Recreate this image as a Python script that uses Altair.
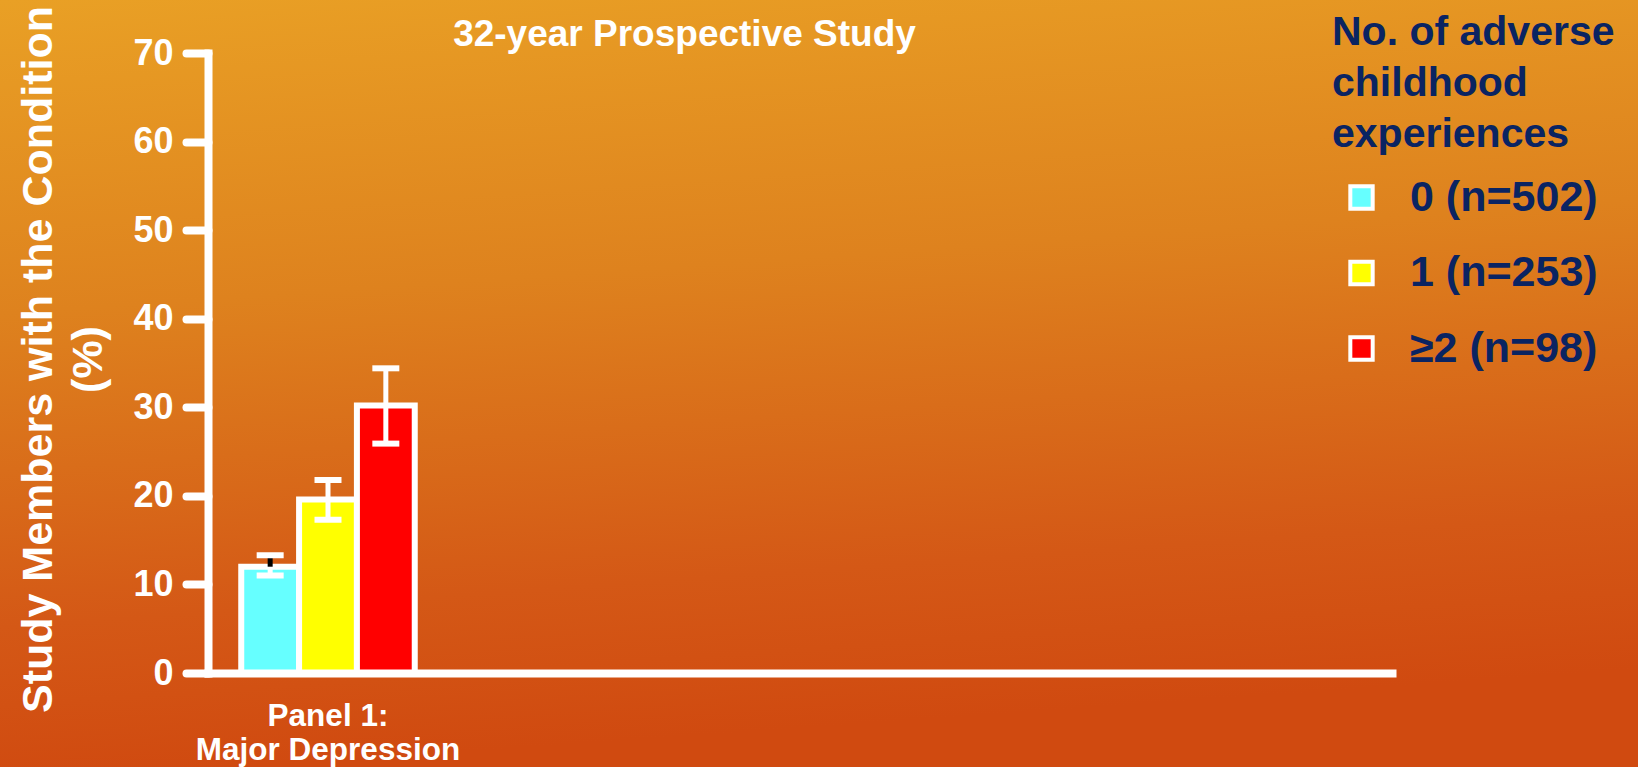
import altair as alt
import pandas as pd

# Data: share of study members with major depression by number of adverse childhood experiences
panels = ["Panel 1:\nMajor Depression"]
groups = ["0 (n=502)", "1 (n=253)", "\u22652 (n=98)"]
colors = ["#66FFFF", "#FFFF00", "#FF0000"]
pct = [12.0, 19.6, 30.2]
ci_low = [11.0, 17.3, 25.9]
ci_high = [13.3, 21.8, 34.4]
stem_colors = ["black", "white", "white"]
y_ticks = [0, 10, 20, 30, 40, 50, 60, 70]
chart_title = "32-year Prospective Study"
y_title = ["Study Members with the Condition", "(%)"]
legend_title = ["No. of adverse", "childhood", "experiences"]

FONT = "Liberation Sans"
NAVY = "#0A2462"

df = pd.DataFrame({
    "panel": panels * len(groups),
    "group": groups,
    "pct": pct,
    "lo": ci_low,
    "hi": ci_high,
    "stem": stem_colors,
})

W, H = 1184, 620
PAD = {"left": 208, "top": 53, "right": 246, "bottom": 94}

x_enc = alt.X(
    "panel:N",
    scale=alt.Scale(domain=panels, paddingInner=0.6566, paddingOuter=1, align=0.0329),
    axis=alt.Axis(
        title=None, ticks=False, labelAngle=0, zindex=2,
        labelExpr="split(datum.label, '\\n')",
        labelFont=FONT, labelFontSize=31.5, labelFontWeight="bold", labelColor="white",
        labelLineHeight=34, labelPadding=27, labelBaseline="top", labelLimit=500,
        domainColor="white", domainWidth=8, domainCap="square",
    ),
)
xoff = alt.XOffset("group:N", scale=alt.Scale(domain=groups, paddingInner=0, paddingOuter=0))
y_scale = alt.Scale(domain=[0, 70], nice=False, zero=True)

# slide background
bg = alt.Chart(alt.Data(values=[{}])).mark_rect(
    fill=alt.LinearGradient(
        gradient="linear",
        stops=[
            alt.GradientStop(color="#E9A025", offset=0),
            alt.GradientStop(color="#DE821E", offset=0.4),
            alt.GradientStop(color="#D45816", offset=0.8),
            alt.GradientStop(color="#D04A10", offset=1),
        ],
        x1=0, y1=0, x2=0.15, y2=1,
    )
).encode(
    x=alt.value(-PAD["left"]), x2=alt.value(W + PAD["right"]),
    y=alt.value(-PAD["top"]), y2=alt.value(H + PAD["bottom"]),
)

bars = alt.Chart(df).mark_bar(stroke="white", strokeWidth=6, opacity=1).encode(
    x=x_enc,
    xOffset=xoff,
    y=alt.Y(
        "pct:Q", scale=y_scale,
        axis=alt.Axis(
            values=y_ticks, grid=False, zindex=2,
            labelFont=FONT, labelFontSize=36, labelFontWeight="bold", labelColor="white",
            labelPadding=13,
            domainColor="white", domainWidth=8, domainCap="square",
            tickColor="white", tickWidth=8, tickSize=22, tickCap="round",
            title=y_title, titleFont=FONT, titleFontSize=43, titleFontWeight="bold",
            titleColor="white", titleLineHeight=50, titleAngle=-90,
            titleAlign="center", titleBaseline="alphabetic",
            titleX=-157, titleY=306,
        ),
    ),
    color=alt.Color(
        "group:N",
        scale=alt.Scale(domain=groups, range=colors),
        legend=alt.Legend(
            orient="none", legendX=1124, legendY=-40,
            title=legend_title, titleFont=FONT, titleFontSize=41, titleFontWeight="bold",
            titleColor=NAVY, titleLineHeight=51, titlePadding=20, titleLimit=400,
            labelFont=FONT, labelFontSize=43, labelFontWeight="bold", labelColor=NAVY,
            labelOffset=27, labelLimit=400,
            symbolType="square", symbolSize=500, symbolStrokeColor="white",
            symbolStrokeWidth=4, symbolOpacity=1, symbolOffset=8,
            rowPadding=31.5, padding=0,
        ),
    ),
)

stem_low = alt.Chart(df).mark_rule(color="white", strokeWidth=5).encode(
    x=alt.X("panel:N"), xOffset=xoff, y=alt.Y("lo:Q", scale=y_scale), y2="pct:Q"
)
stem_high = alt.Chart(df).mark_rule(strokeWidth=5).encode(
    x=alt.X("panel:N"), xOffset=xoff, y=alt.Y("pct:Q", scale=y_scale), y2="hi:Q",
    color=alt.Color("stem:N", scale=None),
)
cap_hi = alt.Chart(df).mark_tick(color="white", size=27, thickness=6, opacity=1).encode(
    x=alt.X("panel:N"), xOffset=xoff, y=alt.Y("hi:Q", scale=y_scale)
)
cap_lo = alt.Chart(df).mark_tick(color="white", size=27, thickness=6, opacity=1).encode(
    x=alt.X("panel:N"), xOffset=xoff, y=alt.Y("lo:Q", scale=y_scale)
)

title_txt = alt.Chart(alt.Data(values=[{"t": chart_title}])).mark_text(
    font=FONT, fontSize=37, fontWeight="bold", color="white", align="center",
    baseline="alphabetic",
).encode(text="t:N", x=alt.value(476.5), y=alt.value(-7))

chart = alt.layer(bg, bars, stem_low, stem_high, cap_hi, cap_lo, title_txt).resolve_scale(
    color="independent"
).properties(
    width=W, height=H, padding=PAD,
    autosize=alt.AutoSizeParams(type="none"),
    background="#DB7A1C",
).configure_view(stroke=None)

chart.save("out.html", embed_options={"renderer": "svg", "actions": False})
